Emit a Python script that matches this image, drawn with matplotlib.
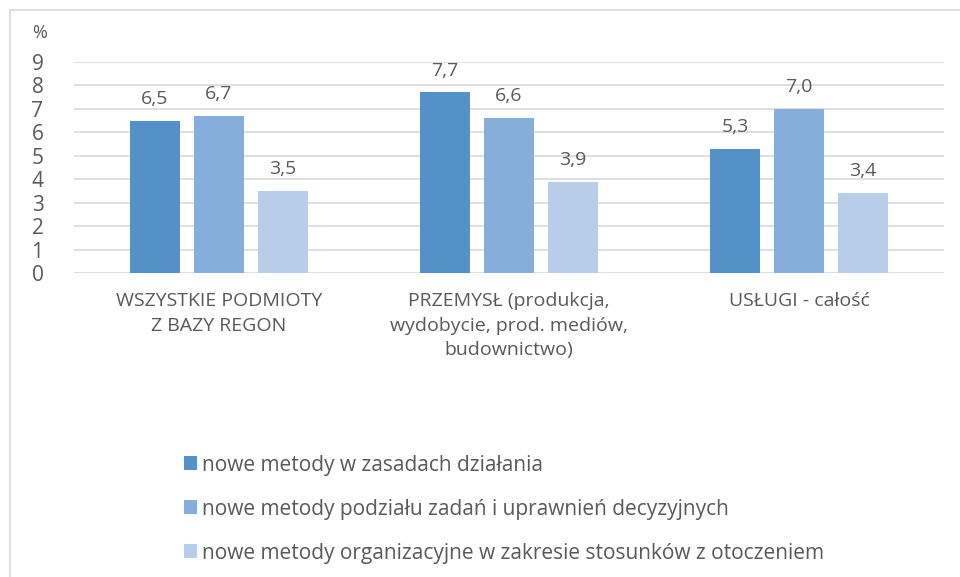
import numpy as np
import matplotlib.pyplot as plt
from matplotlib.patches import Rectangle

categories = [
    'WSZYSTKIE PODMIOTY\nZ BAZY REGON',
    'PRZEMYSŁ (produkcja,\nwydobycie, prod. mediów,\nbudownictwo)',
    'USŁUGI - całość',
]
series_names = [
    'nowe metody w zasadach działania',
    'nowe metody podziału zadań i uprawnień decyzyjnych',
    'nowe metody organizacyjne w zakresie stosunków z otoczeniem',
]
values = [
    [6.5, 7.7, 5.3],
    [6.7, 6.6, 7.0],
    [3.5, 3.9, 3.4],
]
colors = ['#5491C8', '#85AEDB', '#B8CDE9']
TEXT = '#595959'

plt.rcParams['font.family'] = ['Open Sans', 'DejaVu Sans']

fig = plt.figure(figsize=(9.6, 5.77), dpi=100)
fig.patches.append(Rectangle((10 / 960, -0.1), 1.0, 1.1 - 10 / 577, transform=fig.transFigure,
                             fill=False, edgecolor='#D9D9D9', linewidth=1.2))

ax = fig.add_axes([74 / 960, 1 - 273 / 577, 870 / 960, 211 / 577])
x = np.arange(len(categories))
width = 0.172
step = 0.2207
for i, (name, vals) in enumerate(zip(series_names, values)):
    pos = x + (i - 1) * step
    bars = ax.bar(pos, vals, width, color=colors[i], label=name, zorder=3)
    for b, v in zip(bars, vals):
        ax.text(b.get_x() + b.get_width() / 2, v + 0.55, f'{v:.1f}'.replace('.', ','),
                ha='center', va='bottom', fontsize=14, color=TEXT)

ax.set_xlim(-0.5, len(categories) - 0.5)
ax.set_ylim(0, 9)
ax.set_yticks(range(10))
ax.yaxis.grid(True, color='#D9D9D9', linewidth=1.2, zorder=0)
ax.set_axisbelow(True)
for s in ax.spines.values():
    s.set_visible(False)
ax.tick_params(axis='both', length=0, colors=TEXT, labelsize=14)
ax.tick_params(axis='y', labelsize=15, pad=22)
ax.tick_params(axis='x', pad=14)
ax.set_xticks(x)
ax.set_xticklabels(categories, linespacing=1.45)
fig.text(40 / 960, 1 - 33 / 577, '%', ha='center', va='center', fontsize=13, color=TEXT)

leg = fig.legend(loc='upper left', bbox_to_anchor=(165 / 960, 1 - 436 / 577), frameon=False,
                 fontsize=15, labelcolor=TEXT, handlelength=0.65, handleheight=0.65,
                 handletextpad=0.25, labelspacing=1.1)

fig.savefig('out.png', dpi=100)
